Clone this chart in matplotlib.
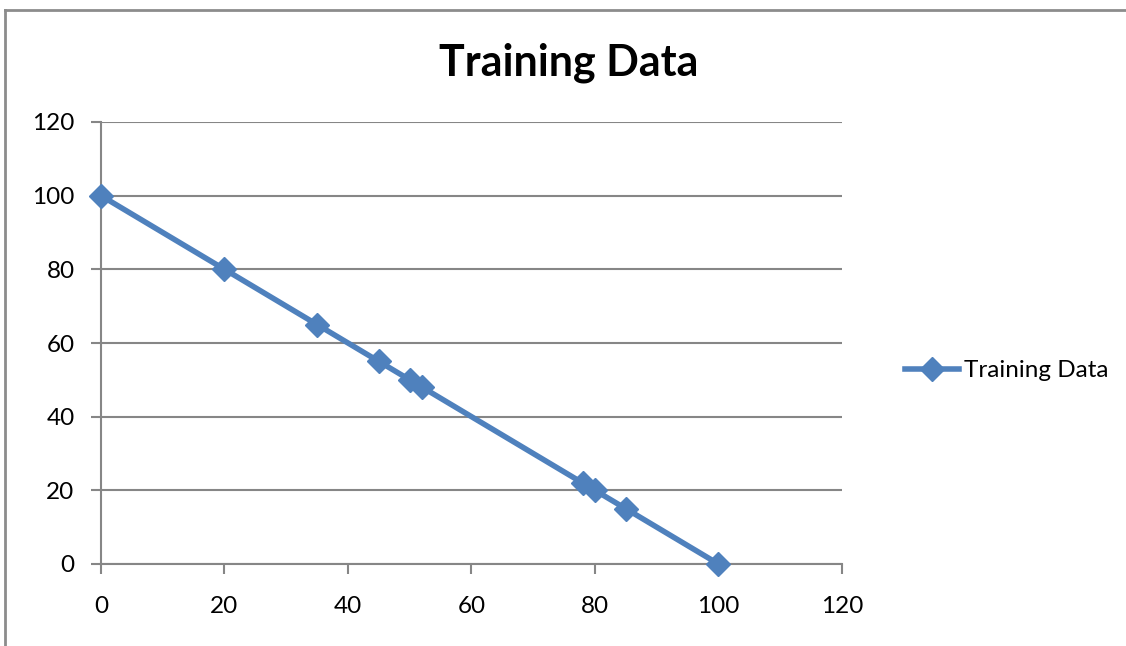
#Recreate the "Training Data" line chart

#import modules
import matplotlib
matplotlib.use("Agg")
import matplotlib.pyplot as plt
from matplotlib.lines import Line2D

#data
x_vals = [0, 20, 35, 45, 50, 52, 78, 80, 85, 100]
y_vals = [100, 80, 65, 55, 50, 48, 22, 20, 15, 0]
x_ticks = [0, 20, 40, 60, 80, 100, 120]
y_ticks = [0, 20, 40, 60, 80, 100, 120]
series_name = "Training Data"
title = "Training Data"

plt.rcParams["font.family"] = ["Lato", "DejaVu Sans"]

fig = plt.figure(figsize=(11.26, 6.46), dpi=100)
ax = fig.add_axes([101/1126, 82/646, 741/1126, 442/646])

#plot the series
ax.plot(x_vals, y_vals, color="#4F81BD", linewidth=4, marker="D",
        markersize=12, markerfacecolor="#4F81BD", markeredgecolor="#4F81BD",
        label=series_name, zorder=3, clip_on=False)

#axes limits and ticks
ax.set_xlim(0, 120)
ax.set_ylim(0, 120)
ax.set_xticks(x_ticks)
ax.set_yticks(y_ticks)
ax.tick_params(labelsize=17.5, colors="#868686", labelcolor="black",
               length=7, width=1.5)
ax.tick_params(axis="x", pad=16)
ax.tick_params(axis="y", pad=12)

#gridlines and spines
ax.yaxis.grid(True, color="#868686", linewidth=1.5)
ax.set_axisbelow(True)
for s in ["top", "right"]:
    ax.spines[s].set_visible(False)
for s in ["left", "bottom"]:
    ax.spines[s].set_color("#868686")
    ax.spines[s].set_linewidth(1.5)

#title and legend
fig.text(569/1126, 1-63/646, title, ha="center", va="center",
         fontsize=31, fontweight="bold")
ax.legend(loc="center left", bbox_to_anchor=(1.055, 0.437), frameon=False,
          fontsize=17.5, handlelength=2.25, handletextpad=0.2)

#outer chart border (cropped on right and bottom)
fig.add_artist(Line2D([5/1126, 5/1126], [0, 1-10/646], color="#8c8c8c", linewidth=2))
fig.add_artist(Line2D([5/1126, 1], [1-10/646, 1-10/646], color="#8c8c8c", linewidth=2))

#output the plot to a file
fig.savefig("out.png", dpi=100)
